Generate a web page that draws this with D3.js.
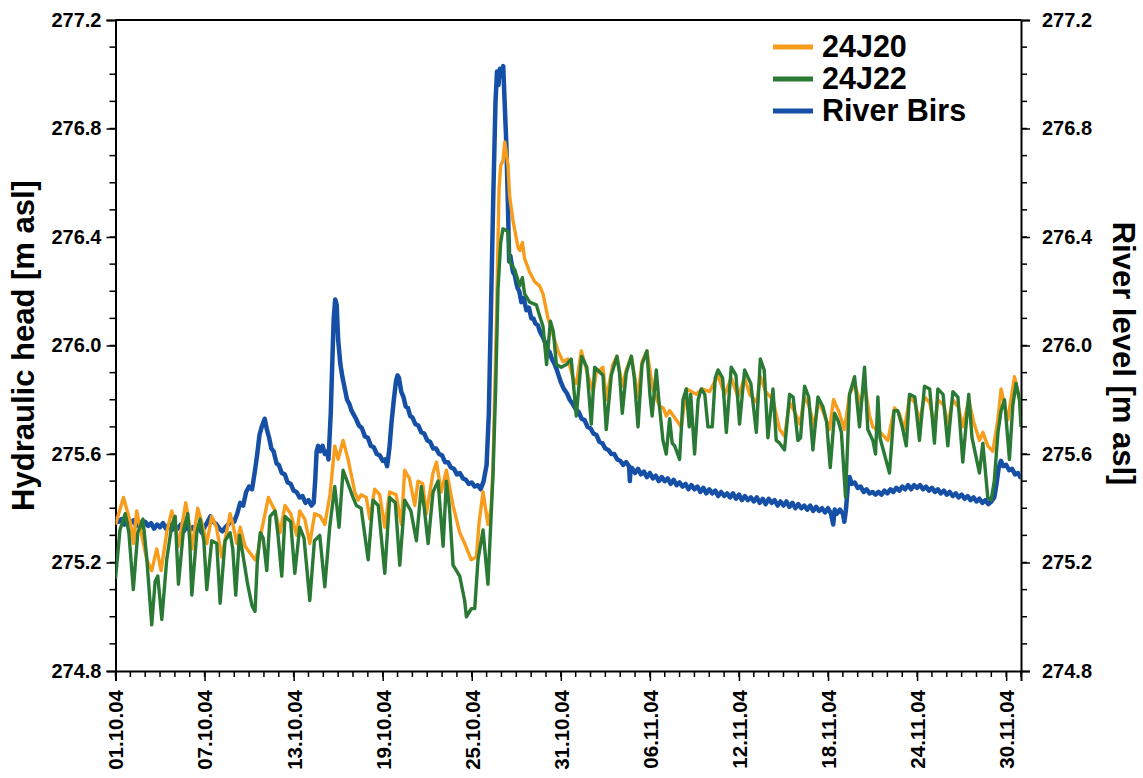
<!DOCTYPE html>
<html>
<head>
<meta charset="utf-8">
<script src="https://cdn.jsdelivr.net/npm/d3@7"></script>
<style>
  html, body { margin: 0; padding: 0; background: #fff; }
  svg { display: block; }
  text { font-family: "Liberation Sans", Arial, Helvetica, sans-serif; font-weight: bold; fill: #000; }
</style>
</head>
<body>
<svg id="chart" width="1143" height="778"></svg>
<script>
// Time in days after 01.10.2004 00:00, value in m a.s.l.
const well24J20 = [
  [0,275.34],[0.54,275.44],[0.99,275.35],[1.21,275.27],[1.43,275.39],[1.77,275.30],[2.11,275.21],[2.44,275.17],
  [2.78,275.25],[3.07,275.17],[3.45,275.31],[3.79,275.39],[4.0,275.35],[4.24,275.26],[4.73,275.42],[4.95,275.35],
  [5.14,275.25],[5.54,275.40],[5.85,275.34],[6.15,275.27],[6.48,275.37],[6.8,275.33],[7.16,275.22],[7.72,275.38],
  [7.95,275.33],[8.17,275.27],[8.4,275.33],[8.73,275.26],[9.4,275.21],[9.6,275.24],[9.85,275.32],[10.3,275.44],
  [10.75,275.39],[11.09,275.31],[11.42,275.41],[11.8,275.38],[12.21,275.30],[12.41,275.39],[12.75,275.36],[13.09,275.27],
  [13.42,275.38],[13.8,275.37],[14.1,275.34],[14.45,275.45],[14.77,275.63],[15.0,275.58],[15.33,275.65],[15.67,275.58],
  [16.12,275.46],[16.34,275.43],[16.55,275.45],[16.9,275.44],[17.13,275.36],[17.46,275.47],[17.8,275.45],[18.14,275.33],
  [18.47,275.46],[18.9,275.45],[19.26,275.34],[19.48,275.54],[19.8,275.51],[20.16,275.41],[20.38,275.50],[20.7,275.49],
  [20.94,275.38],[21.39,275.53],[21.62,275.57],[21.95,275.46],[22.29,275.54],[22.74,275.41],[23.19,275.31],[23.52,275.27],
  [23.97,275.21],[24.31,275.22],[24.5,275.35],[24.76,275.46],[25.09,275.34],[25.3,275.40],[25.43,275.55],[25.66,276.09],
  [25.84,276.58],[25.95,276.665],[26.1,276.68],[26.22,276.75],[26.44,276.665],[26.55,276.55],[26.78,276.46],[27.12,276.36],
  [27.25,276.35],[27.41,276.38],[27.56,276.32],[27.9,276.27],[28.24,276.235],[28.57,276.22],[28.8,276.19],[29.14,276.10],
  [29.47,276.04],[29.81,275.98],[30.15,275.94],[30.48,275.95],[30.82,275.88],[31.05,275.86],[31.38,275.98],[31.83,275.89],
  [32.17,275.83],[32.39,275.90],[32.84,275.92],[33.06,275.80],[33.5,275.93],[33.78,275.96],[34.14,275.85],[34.41,275.91],
  [34.75,275.96],[35.2,275.81],[35.47,275.94],[35.8,275.98],[36.2,275.84],[36.66,275.775],[36.9,275.77],[37.1,275.74],
  [37.33,275.76],[37.78,275.725],[38.12,275.70],[38.45,275.84],[38.8,275.83],[39.13,275.82],[39.5,275.84],[40.02,275.83],
  [40.59,275.89],[41.04,275.82],[41.48,275.88],[41.93,275.81],[42.38,275.88],[42.72,275.82],[43.2,275.79],[43.44,275.885],
  [43.8,275.83],[44.29,275.80],[44.74,275.69],[45.07,275.665],[45.41,275.79],[45.8,275.75],[46.1,275.71],[46.42,275.81],
  [46.7,275.78],[47.09,275.70],[47.35,275.79],[47.65,275.76],[48.1,275.69],[48.37,275.80],[48.7,275.76],[49.11,275.69],
  [49.45,275.82],[49.8,275.86],[50.2,275.78],[50.46,275.86],[50.8,275.74],[51.02,275.70],[51.5,275.68],[52.03,275.65],
  [52.48,275.77],[52.8,275.75],[53.15,275.69],[53.49,275.81],[53.85,275.79],[54.16,275.72],[54.5,275.81],[54.85,275.79],
  [55.17,275.70],[55.4,275.80],[55.8,275.78],[56.07,275.71],[56.41,275.80],[56.8,275.77],[57.08,275.70],[57.48,275.80],
  [57.8,275.72],[58.2,275.65],[58.43,275.68],[58.76,275.63],[59.1,275.61],[59.44,275.725],[59.66,275.84],[60.11,275.725],
  [60.56,275.885],[60.9,275.80],[61.0,275.76]
];

const well24J22 = [
  [0,275.14],[0.3,275.32],[0.65,275.38],[0.9,275.31],[1.2,275.10],[1.5,275.31],[1.85,275.36],[2.1,275.22],[2.44,274.97],
  [2.67,275.13],[2.85,275.15],[3.12,274.99],[3.45,275.21],[3.8,275.34],[4.02,275.37],[4.24,275.12],[4.58,275.32],
  [4.87,275.38],[5.0,275.28],[5.14,275.08],[5.48,275.31],[5.7,275.36],[5.95,275.28],[6.15,275.10],[6.48,275.28],
  [6.82,275.27],[7.05,275.05],[7.38,275.28],[7.72,275.31],[7.9,275.25],[8.1,275.08],[8.35,275.30],[8.55,275.24],
  [8.9,275.12],[9.2,275.04],[9.4,275.02],[9.55,275.20],[9.75,275.31],[9.95,275.29],[10.19,275.17],[10.41,275.37],
  [10.75,275.39],[10.95,275.30],[11.2,275.15],[11.42,275.37],[11.8,275.35],[12.08,275.16],[12.41,275.33],[12.7,275.29],
  [13.09,275.06],[13.4,275.28],[13.76,275.30],[14.1,275.11],[14.43,275.33],[14.77,275.48],[15.06,275.33],[15.33,275.54],
  [15.67,275.49],[16.0,275.44],[16.23,275.41],[16.55,275.40],[17.02,275.21],[17.35,275.43],[17.7,275.41],[18.14,275.16],
  [18.47,275.44],[18.85,275.42],[19.15,275.19],[19.48,275.43],[19.9,275.39],[20.27,275.28],[20.6,275.48],[20.8,275.40],
  [21.06,275.27],[21.39,275.46],[21.73,275.50],[22.07,275.26],[22.29,275.50],[22.5,275.40],[22.74,275.19],[23.19,275.15],
  [23.52,275.06],[23.64,275.00],[23.97,275.03],[24.2,275.03],[24.42,275.21],[24.76,275.32],[25.09,275.12],[25.43,275.52],
  [25.61,275.84],[25.77,276.21],[25.95,276.38],[26.1,276.43],[26.44,276.42],[26.55,276.31],[26.89,276.28],[27.23,276.22],
  [27.41,276.25],[27.56,276.19],[27.9,276.16],[28.35,276.15],[28.57,276.11],[28.8,276.07],[29.04,275.93],[29.3,276.09],
  [29.5,276.05],[29.7,275.93],[30.03,275.92],[30.37,275.93],[30.7,275.95],[31.04,275.74],[31.4,275.96],[31.75,275.92],
  [32.05,275.71],[32.28,275.92],[32.84,275.89],[33.06,275.69],[33.4,275.89],[33.78,275.96],[33.95,275.90],[34.14,275.75],
  [34.41,275.90],[34.75,275.96],[34.95,275.88],[35.2,275.70],[35.47,275.93],[35.8,275.98],[36.0,275.82],[36.15,275.74],
  [36.43,275.91],[36.6,275.80],[36.88,275.65],[37.1,275.60],[37.33,275.73],[37.5,275.64],[37.67,275.63],[38.0,275.58],
  [38.23,275.80],[38.45,275.84],[38.65,275.70],[38.75,275.82],[39.01,275.60],[39.25,275.80],[39.46,275.84],[39.7,275.82],
  [39.91,275.70],[40.2,275.70],[40.4,275.88],[40.59,275.91],[40.9,275.88],[41.15,275.68],[41.48,275.92],[41.8,275.89],
  [42.04,275.71],[42.38,275.91],[42.8,275.86],[43.17,275.68],[43.44,275.95],[43.7,275.91],[43.95,275.66],[44.29,275.84],
  [44.51,275.65],[44.74,275.64],[45.07,275.615],[45.41,275.82],[45.65,275.81],[45.97,275.65],[46.15,275.66],[46.42,275.85],
  [46.7,275.81],[46.98,275.615],[47.32,275.81],[47.65,275.775],[47.9,275.72],[48.15,275.55],[48.44,275.75],[48.7,275.72],
  [48.9,275.68],[49.18,275.44],[49.45,275.82],[49.79,275.885],[50.12,275.70],[50.46,275.92],[50.68,275.69],[51.02,275.65],
  [51.2,275.60],[51.36,275.81],[51.5,275.66],[52.14,275.53],[52.45,275.76],[52.7,275.76],[53.0,275.70],[53.27,275.63],
  [53.49,275.82],[53.85,275.81],[54.16,275.65],[54.5,275.85],[54.85,275.84],[55.17,275.64],[55.4,275.84],[55.75,275.82],
  [56.07,275.63],[56.41,275.83],[56.75,275.81],[57.08,275.57],[57.48,275.82],[57.7,275.66],[58.2,275.53],[58.43,275.64],
  [58.76,275.44],[58.99,275.43],[59.2,275.50],[59.45,275.68],[59.66,275.76],[59.89,275.80],[60.22,275.58],[60.45,275.78],
  [60.67,275.86],[60.9,275.80],[61.0,275.70]
];

const riverBirs = [
  [0.0,275.37],[0.2,275.35],[0.4,275.36],[0.6,275.34],[0.8,275.36],[1.0,275.345],[1.2,275.355],[1.4,275.335],[1.6,275.35],
  [1.8,275.33],[2.0,275.35],[2.2,275.335],[2.4,275.345],[2.6,275.325],[2.8,275.34],[3.0,275.33],[3.2,275.345],[3.4,275.325],
  [3.6,275.34],[3.8,275.32],[4.0,275.335],[4.2,275.325],[4.4,275.34],[4.6,275.315],[4.8,275.335],[5.0,275.32],[5.2,275.33],
  [5.4,275.315],[5.6,275.335],[5.8,275.31],[6.0,275.33],[6.2,275.35],[6.4,275.37],[6.6,275.35],[6.8,275.34],[7.0,275.325],
  [7.2,275.315],[7.4,275.33],[7.6,275.34],[7.8,275.36],[8.0,275.35],[8.2,275.38],[8.4,275.42],[8.6,275.41],[8.8,275.46],
  [9.0,275.48],[9.2,275.47],[9.4,275.54],[9.55,275.60],[9.7,275.67],[9.85,275.70],[10.05,275.73],[10.2,275.69],[10.35,275.66],
  [10.5,275.62],[10.65,275.61],[10.85,275.565],[11.0,275.56],[11.2,275.53],[11.4,275.525],[11.6,275.495],[11.8,275.49],
  [12.0,275.465],[12.2,275.46],[12.4,275.44],[12.6,275.445],[12.8,275.42],[13.0,275.43],[13.2,275.41],[13.35,275.42],
  [13.45,275.50],[13.55,275.61],[13.65,275.63],[13.8,275.61],[13.95,275.63],[14.1,275.60],[14.25,275.61],[14.35,275.58],
  [14.5,275.75],[14.6,275.93],[14.7,276.10],[14.8,276.17],[14.9,276.15],[15.0,276.02],[15.15,275.93],[15.3,275.88],
  [15.45,275.84],[15.6,275.80],[15.75,275.785],[15.9,275.76],[16.05,275.745],[16.2,275.73],[16.4,275.705],[16.6,275.695],
  [16.8,275.665],[17.0,275.66],[17.2,275.63],[17.4,275.625],[17.6,275.60],[17.8,275.595],[18.0,275.575],[18.15,275.58],
  [18.3,275.555],[18.45,275.62],[18.6,275.72],[18.75,275.80],[18.9,275.87],[19.0,275.89],[19.1,275.88],[19.25,275.83],
  [19.4,275.81],[19.55,275.775],[19.7,275.77],[19.85,275.74],[20.0,275.735],[20.2,275.71],[20.4,275.705],[20.6,275.68],
  [20.8,275.675],[21.0,275.65],[21.2,275.645],[21.4,275.62],[21.6,275.62],[21.8,275.60],[22.0,275.595],[22.2,275.57],
  [22.4,275.57],[22.6,275.55],[22.8,275.545],[23.0,275.525],[23.2,275.53],[23.4,275.51],[23.6,275.505],[23.8,275.49],
  [24.0,275.495],[24.2,275.48],[24.4,275.485],[24.6,275.47],[24.8,275.50],[25.0,275.56],[25.15,275.75],[25.3,276.15],
  [25.45,276.55],[25.6,276.90],[25.7,277.01],[25.8,276.96],[25.9,277.02],[26.05,277.01],[26.12,277.03],[26.22,276.89],
  [26.33,276.74],[26.44,276.51],[26.52,276.31],[26.6,276.33],[26.78,276.27],[26.9,276.26],[27.0,276.23],[27.1,276.21],
  [27.2,276.20],[27.34,276.16],[27.5,276.175],[27.68,276.13],[27.85,276.14],[28.01,276.10],[28.15,276.10],[28.3,276.08],
  [28.45,276.075],[28.6,276.05],[28.8,276.03],[28.95,276.01],[29.1,275.985],[29.25,275.975],[29.4,275.95],[29.55,275.935],
  [29.7,275.915],[29.85,275.89],[30.0,275.865],[30.2,275.84],[30.4,275.825],[30.6,275.80],[30.8,275.785],[31.0,275.765],
  [31.2,275.755],[31.4,275.73],[31.6,275.725],[31.8,275.70],[32.0,275.695],[32.2,275.675],[32.4,275.67],[32.6,275.645],
  [32.8,275.64],[33.0,275.62],[33.2,275.615],[33.4,275.60],[33.6,275.60],[33.8,275.58],[34.0,275.575],[34.2,275.56],
  [34.4,275.57],[34.6,275.555],[34.65,275.50],[34.7,275.55],[34.8,275.548],[35.0,275.53],[35.2,275.545],[35.4,275.525],
  [35.6,275.535],[35.8,275.515],[36.0,275.53],[36.2,275.51],[36.4,275.52],[36.6,275.50],[36.8,275.515],[37.0,275.50],
  [37.2,275.51],[37.4,275.49],[37.6,275.505],[37.8,275.485],[38.0,275.495],[38.2,275.48],[38.4,275.49],[38.6,275.47],
  [38.8,275.485],[39.0,275.47],[39.2,275.48],[39.4,275.46],[39.6,275.475],[39.8,275.455],[40.0,275.47],[40.2,275.455],
  [40.4,275.465],[40.6,275.445],[40.8,275.46],[41.0,275.445],[41.2,275.455],[41.4,275.44],[41.6,275.455],[41.8,275.435],
  [42.0,275.45],[42.2,275.43],[42.4,275.445],[42.6,275.43],[42.8,275.44],[43.0,275.425],[43.2,275.44],[43.4,275.42],
  [43.6,275.435],[43.8,275.415],[44.0,275.435],[44.2,275.42],[44.4,275.43],[44.6,275.41],[44.8,275.425],[45.0,275.41],
  [45.2,275.425],[45.4,275.405],[45.6,275.42],[45.8,275.40],[46.0,275.415],[46.2,275.40],[46.4,275.41],[46.6,275.395],
  [46.8,275.41],[47.0,275.39],[47.2,275.405],[47.4,275.39],[47.6,275.40],[47.8,275.385],[48.0,275.40],[48.2,275.38],
  [48.35,275.34],[48.45,275.395],[48.6,275.38],[48.8,275.395],[49.0,275.38],[49.1,275.35],[49.2,275.39],[49.35,275.49],
  [49.45,275.515],[49.6,275.49],[49.8,275.495],[50.0,275.475],[50.2,275.48],[50.4,275.46],[50.6,275.47],[50.8,275.455],
  [51.0,275.46],[51.2,275.45],[51.4,275.46],[51.6,275.45],[51.8,275.465],[52.0,275.455],[52.2,275.47],[52.4,275.46],
  [52.6,275.475],[52.8,275.465],[53.0,275.48],[53.2,275.47],[53.4,275.485],[53.6,275.47],[53.8,275.485],[54.0,275.475],
  [54.2,275.485],[54.4,275.47],[54.6,275.48],[54.8,275.465],[55.0,275.475],[55.2,275.46],[55.4,275.47],[55.6,275.455],
  [55.8,275.465],[56.0,275.45],[56.2,275.46],[56.4,275.445],[56.6,275.455],[56.8,275.44],[57.0,275.45],[57.2,275.435],
  [57.4,275.445],[57.6,275.43],[57.8,275.44],[58.0,275.425],[58.2,275.435],[58.4,275.42],[58.6,275.43],[58.8,275.415],
  [59.0,275.425],[59.2,275.44],[59.35,275.49],[59.5,275.55],[59.65,275.575],[59.8,275.555],[60.0,275.56],[60.2,275.54],
  [60.4,275.545],[60.6,275.525],[60.8,275.53],[61.0,275.51]
];

const dateLabels = ["01.10.04","07.10.04","13.10.04","19.10.04","25.10.04","31.10.04",
                    "06.11.04","12.11.04","18.11.04","24.11.04","30.11.04"];
const levelTicks = [274.8, 275.2, 275.6, 276.0, 276.4, 276.8, 277.2];
const seriesNames = ["24J20", "24J22", "River Birs"];
const seriesColors = ["#F89C1C", "#2A7935", "#1650A6"];

const svg = d3.select("#chart");
const plot = { left: 115.5, right: 1021, top: 20, bottom: 671 };

const parseDate = d3.utcParse("%d.%m.%y");
const start = Date.UTC(2004, 9, 1);
const end = Date.UTC(2004, 11, 1);
const dayToDate = t => new Date(start + t * 864e5);

const x = d3.scaleUtc().domain([new Date(start), new Date(end)]).range([plot.left, plot.right]);
const y = d3.scaleLinear().domain([274.8, 277.2]).range([plot.bottom, plot.top]);

const minorLevels = d3.range(2749, 2772).map(v => v / 10);
const majorDates = dateLabels.map(parseDate);
const minorDates = d3.utcDay.range(new Date(start), new Date(end + 1));

// Minor ticks: every 0.1 m and every day
const minorG = svg.append("g").attr("stroke", "#000").attr("stroke-width", 1.5);
minorG.selectAll(".ml").data(minorLevels).join("line")
  .attr("x1", plot.left - 6).attr("x2", plot.left)
  .attr("y1", d => y(d)).attr("y2", d => y(d));
minorG.selectAll(".mr").data(minorLevels).join("line")
  .attr("x1", plot.right).attr("x2", plot.right + 6)
  .attr("y1", d => y(d)).attr("y2", d => y(d));
minorG.selectAll(".mb").data(minorDates).join("line")
  .attr("x1", d => x(d)).attr("x2", d => x(d))
  .attr("y1", plot.bottom).attr("y2", plot.bottom + 6);

// Major axes
const fmt = d3.format(".1f");
const leftAxis = d3.axisLeft(y).tickValues(levelTicks).tickFormat(fmt).tickSize(9).tickPadding(5);
const rightAxis = d3.axisRight(y).tickValues(levelTicks).tickFormat(fmt).tickSize(9).tickPadding(12);
const bottomAxis = d3.axisBottom(x).tickValues(majorDates).tickFormat(d3.utcFormat("%d.%m.%y")).tickSize(10);

function styleAxis(g) {
  g.select(".domain").attr("stroke", "#000").attr("stroke-width", 2);
  g.selectAll(".tick line").attr("stroke", "#000").attr("stroke-width", 1.5);
  g.selectAll("text").style("font-size", "20px").style("font-family", '"Liberation Sans", Arial, sans-serif').style("font-weight", "bold").attr("fill", "#000");
}

svg.append("g").attr("transform", `translate(${plot.left},0)`).call(leftAxis).call(styleAxis);
svg.append("g").attr("transform", `translate(${plot.right},0)`).call(rightAxis).call(styleAxis);
const bx = svg.append("g").attr("transform", `translate(0,${plot.bottom})`).call(bottomAxis).call(styleAxis);
bx.selectAll(".tick text")
  .attr("transform", "rotate(-90)")
  .attr("text-anchor", "end")
  .attr("x", -19).attr("y", 0).attr("dy", "0.36em")
  .style("font-size", "20.5px");

// Top frame line
svg.append("line").attr("x1", plot.left).attr("x2", plot.right)
  .attr("y1", plot.top).attr("y2", plot.top)
  .attr("stroke", "#000").attr("stroke-width", 2);

// Series
const line = d3.line().x(d => x(dayToDate(d[0]))).y(d => y(d[1]));
svg.append("clipPath").attr("id", "clip").append("rect")
  .attr("x", plot.left).attr("y", plot.top).attr("width", plot.right - plot.left).attr("height", plot.bottom - plot.top);
const lines = svg.append("g").attr("clip-path", "url(#clip)");
[[riverBirs, 2, 4.5], [well24J20, 0, 3.4], [well24J22, 1, 3.4]].forEach(([data, i, w]) => {
  lines.append("path").datum(data)
    .attr("d", line)
    .attr("fill", "none")
    .attr("stroke", seriesColors[i])
    .attr("stroke-width", w)
    .attr("stroke-linejoin", "round");
});

// Axis titles
svg.append("text")
  .attr("transform", `translate(34,${(plot.top + plot.bottom) / 2}) rotate(-90)`)
  .attr("text-anchor", "middle")
  .style("font-size", "31px")
  .text("Hydraulic head [m asl]");
svg.append("text")
  .attr("transform", `translate(1113,${(plot.top + plot.bottom) / 2 + 8}) rotate(90)`)
  .attr("text-anchor", "middle")
  .style("font-size", "31px")
  .text("River level [m asl]");

// Legend
const legend = svg.append("g");
seriesNames.forEach((name, i) => {
  const ly = 47 + i * 32;
  legend.append("line").attr("x1", 773).attr("x2", 813).attr("y1", ly).attr("y2", ly)
    .attr("stroke", seriesColors[i]).attr("stroke-width", 5);
  legend.append("text").attr("x", 822).attr("y", ly + 10)
    .style("font-size", "30.5px").text(name);
});
</script>
</body>
</html>
